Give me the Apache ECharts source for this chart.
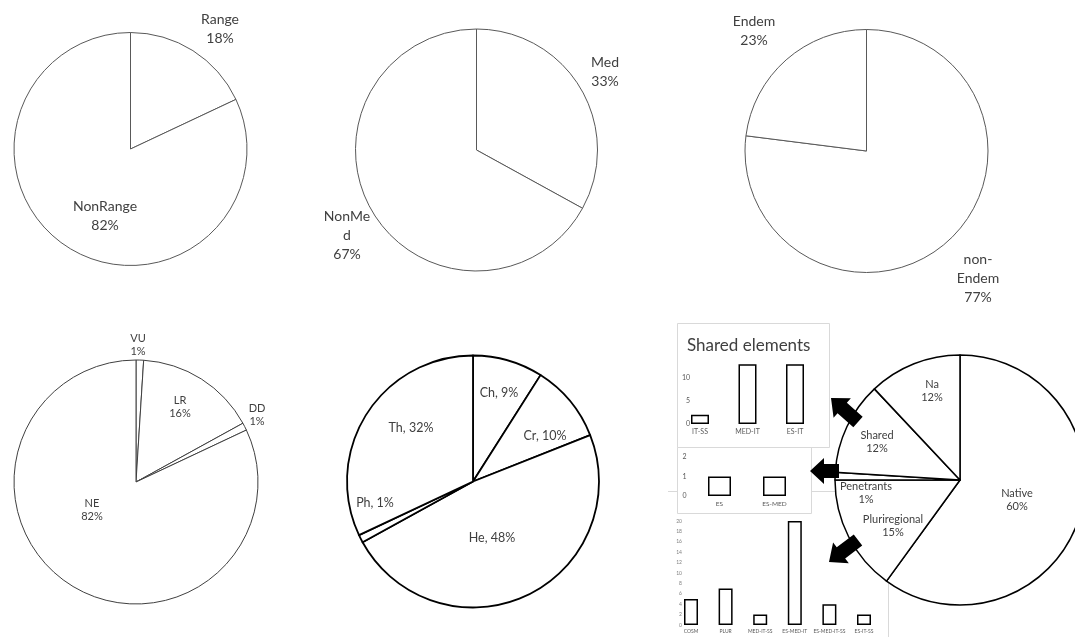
<!DOCTYPE html>
<html><head><meta charset="utf-8">
<script src="https://cdn.jsdelivr.net/npm/echarts@6/dist/echarts.min.js"></script>
<style>html,body{margin:0;padding:0;background:#fff}#c{width:1075px;height:637px}</style>
</head><body><div id="c"></div>
<script>
// ---------- data ----------
const rangeNames = ['Range', 'NonRange'];
const rangeValues = [18, 82];
const medNames = ['Med', 'NonMed'];
const medValues = [33, 67];
const endemNames = ['non-Endem', 'Endem'];
const endemValues = [77, 23];
const iucnNames = ['VU', 'LR', 'DD', 'NE'];
const iucnValues = [1, 16, 1, 82];
const lifeformNames = ['Ch', 'Cr', 'He', 'Ph', 'Th'];
const lifeformValues = [9, 10, 48, 1, 32];
const chorotypeNames = ['Native', 'Pluriregional', 'Penetrants', 'Shared', 'Na'];
const chorotypeValues = [60, 15, 1, 12, 12];
const sharedCats = ['IT-SS', 'MED-IT', 'ES-IT'];
const sharedValues = [2, 13, 13];
const penetrantCats = ['ES', 'ES-MED'];
const penetrantValues = [1, 1];
const pluriCats = ['COSM', 'PLUR', 'MED-IT-SS', 'ES-MED-IT', 'ES-MED-IT-SS', 'ES-IT-SS'];
const pluriValues = [5, 7, 2, 20, 4, 2];
const sharedTitle = 'Shared elements';
// wrapped label text as in the original
const wrapped = { 'NonMed': 'NonMe\nd', 'non-Endem': 'non-\nEndem' };

// ---------- layout (pixels) ----------
const labelPos = {
  range: [[220, 29], [105, 216]],
  med: [[605, 72], [347, 235]],
  endem: [[978, 278], [754, 31]],
  iucn: [[138, 345], [180, 407], [257, 415], [92, 510]],
  life: [[499, 393], [545, 436], [492, 538], [375, 503], [411, 428]],
  choro: [[1017, 500], [893, 526], [866, 493], [877, 442], [932, 391]]
};

const chart = echarts.init(document.getElementById('c'), null, { renderer: 'canvas' });

function pieSeries(names, values, center, r, border, bw, font, lh, fmt, pos) {
  return {
    type: 'pie', z: 5, center: center, radius: r, startAngle: 90, clockwise: true,
    avoidLabelOverlap: false, animation: false, silent: true,
    data: names.map((n, i) => ({ name: n, value: values[i] })),
    itemStyle: { color: '#ffffff', borderColor: border, borderWidth: bw },
    label: {
      show: true, position: 'inside', color: '#404040', fontFamily: 'Lato',
      fontSize: font, lineHeight: lh, align: 'center',
      formatter: p => fmt(wrapped[p.name] || p.name, p.percent)
    },
    labelLine: { show: false },
    labelLayout: p => ({ x: pos[p.dataIndex][0], y: pos[p.dataIndex][1], align: 'center', verticalAlign: 'middle' }),
    emphasis: { disabled: true }
  };
}
const nl = (n, p) => n + '\n' + Math.round(p) + '%';
const cm = (n, p) => n + ', ' + Math.round(p) + '%';

function arrow(tip, tail, headLen, headHalf, shaftHalf) {
  const dx = tip[0] - tail[0], dy = tip[1] - tail[1];
  const L = Math.hypot(dx, dy), ux = dx / L, uy = dy / L, nx = -uy, ny = ux;
  const bx = tip[0] - ux * headLen, by = tip[1] - uy * headLen;
  return [tip,
    [bx + nx * headHalf, by + ny * headHalf],
    [bx + nx * shaftHalf, by + ny * shaftHalf],
    [tail[0] + nx * shaftHalf, tail[1] + ny * shaftHalf],
    [tail[0] - nx * shaftHalf, tail[1] - ny * shaftHalf],
    [bx - nx * shaftHalf, by - ny * shaftHalf],
    [bx - nx * headHalf, by - ny * headHalf]];
}
const arrowShape = (pts) => ({ type: 'polygon', z: 6, shape: { points: pts }, style: { fill: '#000' }, silent: true });

const tickColor = '#595959';
function xCat(gi, cats, fs, z) {
  return { type: 'category', gridIndex: gi, data: cats, boundaryGap: false, z: z,
    axisLine: { show: false }, axisTick: { show: false },
    axisLabel: { fontSize: fs, color: tickColor, margin: 4, fontFamily: 'Lato', interval: 0, hideOverlap: false } };
}
function yVal(gi, max, itv, fs, margin, z, color, showMax) {
  return { type: 'value', gridIndex: gi, min: 0, max: max, interval: itv, z: z,
    axisLine: { show: false }, axisTick: { show: false }, splitLine: { show: false },
    axisLabel: { fontSize: fs, color: color || tickColor, margin: margin, fontFamily: 'Lato',
      showMaxLabel: showMax } };
}
function bars(gi, vals, w, z) {
  return { type: 'bar', xAxisIndex: gi, yAxisIndex: gi, data: vals, barWidth: w, z: z, clip: false,
    silent: true, animation: false,
    itemStyle: { color: '#ffffff', borderColor: '#000000', borderWidth: 1.5 } };
}

const option = {
  backgroundColor: '#ffffff',
  animation: false,
  textStyle: { fontFamily: 'Lato' },
  title: { text: sharedTitle, left: 682, top: 332, z: 6,
    textStyle: { fontSize: 17, fontWeight: 'normal', color: '#404040', fontFamily: 'Lato' } },
  grid: [
    { left: 700, right: 1075 - 795, top: 355, bottom: 637 - 424, outerBoundsMode: 'none', containLabel: false },
    { left: 719.5, right: 1075 - 774.5, top: 457, bottom: 637 - 496, outerBoundsMode: 'none', containLabel: false },
    { left: 691, right: 1075 - 864, top: 521, bottom: 637 - 625, outerBoundsMode: 'none', containLabel: false }
  ],
  xAxis: [xCat(0, sharedCats, 7, 4), xCat(1, penetrantCats, 6.5, 4), xCat(2, pluriCats, 5, 2)],
  yAxis: [yVal(0, 15, 5, 7, 10, 4, null, false), yVal(1, 2, 1, 7, 33, 4, null, true), yVal(2, 20, 2, 5, 9, 2, '#7f7f7f', true)],
  graphic: [
    { type: 'polyline', z: 1, shape: { points: [[668, 491.5], [888.5, 491.5], [888.5, 640]] }, style: { fill: null, stroke: '#d9d9d9', lineWidth: 1 }, silent: true },
    { type: 'rect', z: 3, shape: { x: 677.5, y: 447.5, width: 134, height: 66 }, style: { fill: '#fff', stroke: '#d9d9d9', lineWidth: 1 }, silent: true },
    { type: 'rect', z: 3, shape: { x: 677.5, y: 323.5, width: 152, height: 124 }, style: { fill: '#fff', stroke: '#d9d9d9', lineWidth: 1 }, silent: true },
    arrowShape(arrow([831, 398], [858, 422], 15, 13, 7)),
    arrowShape(arrow([810, 471], [839, 471], 14, 13, 7)),
    arrowShape(arrow([829, 562], [858, 540], 15, 13, 7))
  ],
  series: [
    pieSeries(rangeNames, rangeValues, [130.5, 149], 116.5, '#595959', 1, 14, 19, nl, labelPos.range),
    pieSeries(medNames, medValues, [476.5, 150], 121, '#595959', 1, 14, 19, nl, labelPos.med),
    pieSeries(endemNames, endemValues, [866.5, 151], 121.5, '#595959', 1, 14, 19, nl, labelPos.endem),
    pieSeries(iucnNames, iucnValues, [136, 482], 122, '#404040', 1, 11, 13, nl, labelPos.iucn),
    pieSeries(lifeformNames, lifeformValues, [473, 481.5], 126, '#000000', 1.8, 12.5, 15, cm, labelPos.life),
    pieSeries(chorotypeNames, chorotypeValues, [960, 480], 125, '#000000', 1.5, 11, 13, nl, labelPos.choro),
    bars(0, sharedValues, 18, 4),
    bars(1, penetrantValues, 23, 4),
    bars(2, pluriValues, 14, 2)
  ]
};
chart.setOption(option);
</script>
</body></html>
